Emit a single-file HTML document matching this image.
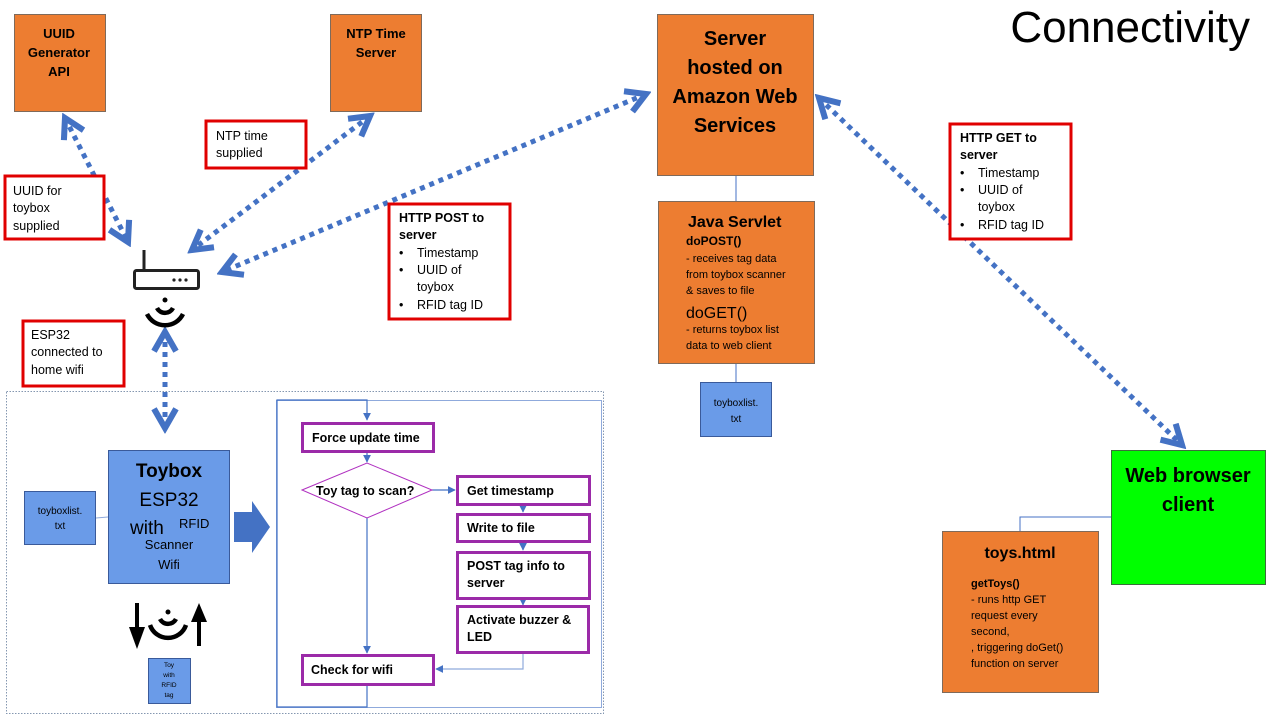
<!DOCTYPE html>
<html><head><meta charset="utf-8"><style>
html,body{margin:0;padding:0;background:#fff;}
svg{display:block;}
text{font-family:"Liberation Sans",sans-serif;}
</style></head><body>
<svg width="1280" height="720" viewBox="0 0 1280 720" xmlns="http://www.w3.org/2000/svg">
<defs>
<marker id="ch" viewBox="0 0 10 10" refX="8" refY="5" markerWidth="5.5" markerHeight="5.5" orient="auto-start-reverse" markerUnits="strokeWidth">
<polyline points="1,1 8,5 1,9" fill="none" stroke="#4472C4" stroke-width="2.2"/>
</marker>
<marker id="sa" viewBox="0 0 10 10" refX="9" refY="5" markerWidth="8" markerHeight="8" orient="auto" markerUnits="userSpaceOnUse">
<path d="M0,0 L10,5 L0,10 z" fill="#4472C4"/>
</marker>
</defs>
<text x="1250" y="42" font-size="44" text-anchor="end" fill="#000">Connectivity</text>

<rect x="6.5" y="391.5" width="597" height="322" fill="none" stroke="#8497b0" stroke-dasharray="1.5,1.5"/>
<rect x="276.5" y="400.5" width="325" height="307" fill="none" stroke="#8faadc" stroke-width="1"/>

<rect x="14.5" y="14.5" width="91" height="97" fill="#ED7D31" stroke="#7f6a5a"/>
<text font-size="13" font-weight="bold" text-anchor="middle"><tspan x="59" y="38">UUID</tspan><tspan x="59" y="57">Generator</tspan><tspan x="59" y="76">API</tspan></text>
<rect x="330.5" y="14.5" width="91" height="97" fill="#ED7D31" stroke="#7f6a5a"/>
<text font-size="13" font-weight="bold" text-anchor="middle"><tspan x="376" y="38">NTP Time</tspan><tspan x="376" y="57">Server</tspan></text>
<rect x="657.5" y="14.5" width="156" height="161" fill="#ED7D31" stroke="#7f6a5a"/>
<text font-size="20" font-weight="bold" text-anchor="middle"><tspan x="735" y="45">Server</tspan><tspan x="735" y="74">hosted on</tspan><tspan x="735" y="103">Amazon Web</tspan><tspan x="735" y="132">Services</tspan></text>

<line x1="736" y1="176" x2="736" y2="201" stroke="#4472C4"/>
<rect x="658.5" y="201.5" width="156" height="162" fill="#ED7D31" stroke="#7f6a5a"/>
<text font-size="16" font-weight="bold" x="688" y="227">Java Servlet</text>
<text font-size="12" font-weight="bold" x="686" y="245">doPOST()</text>
<text font-size="11"><tspan x="686" y="262">- receives tag data</tspan><tspan x="686" y="278">from toybox scanner</tspan><tspan x="686" y="294">&amp; saves to file</tspan></text>
<text font-size="16" x="686" y="318">doGET()</text>
<text font-size="11"><tspan x="686" y="333">- returns toybox list</tspan><tspan x="686" y="349">data to web client</tspan></text>
<line x1="736" y1="364" x2="736" y2="382" stroke="#4472C4"/>
<rect x="700.5" y="382.5" width="71" height="54" fill="#6A9BE8" stroke="#3a5a9a"/>
<text font-size="10" text-anchor="middle"><tspan x="736" y="406">toyboxlist.</tspan><tspan x="736" y="422">txt</tspan></text>

<polyline points="1111,517 1020,517 1020,531" fill="none" stroke="#4472C4"/>
<rect x="1111.5" y="450.5" width="154" height="134" fill="#00FF00" stroke="#3b6e3b"/>
<text font-size="20" font-weight="bold" text-anchor="middle"><tspan x="1188" y="482">Web browser</tspan><tspan x="1188" y="511">client</tspan></text>
<rect x="942.5" y="531.5" width="156" height="161" fill="#ED7D31" stroke="#7f6a5a"/>
<text font-size="16" font-weight="bold" x="1020" y="558" text-anchor="middle">toys.html</text>
<text font-size="11" font-weight="bold" x="971" y="587">getToys()</text>
<text font-size="11"><tspan x="971" y="603">- runs http  GET</tspan><tspan x="971" y="619">request every</tspan><tspan x="971" y="635">second,</tspan><tspan x="971" y="651">, triggering doGet()</tspan><tspan x="971" y="667">function on server</tspan></text>

<g stroke="#4472C4" stroke-width="5" stroke-dasharray="5,5" fill="none">
<line x1="65" y1="118" x2="128" y2="242" marker-start="url(#ch)" marker-end="url(#ch)"/>
<line x1="370" y1="116" x2="192" y2="250" marker-start="url(#ch)" marker-end="url(#ch)"/>
<line x1="646" y1="94" x2="222" y2="272" marker-start="url(#ch)" marker-end="url(#ch)"/>
<line x1="819" y1="98" x2="1182" y2="445" marker-start="url(#ch)" marker-end="url(#ch)"/>
<line x1="165" y1="332" x2="165" y2="428" marker-start="url(#ch)" marker-end="url(#ch)"/>
</g>

<g fill="#fff" stroke="#E00000" stroke-width="3">
<rect x="5" y="176" width="99" height="63"/>
<rect x="206" y="121" width="100" height="47"/>
<rect x="389" y="204" width="121" height="115"/>
<rect x="950" y="124" width="121" height="115"/>
<rect x="23" y="321" width="101" height="65"/>
</g>
<text font-size="12.5"><tspan x="13" y="195">UUID for</tspan><tspan x="13" y="212">toybox</tspan><tspan x="13" y="230">supplied</tspan></text>
<text font-size="12.5"><tspan x="216" y="140">NTP time</tspan><tspan x="216" y="157">supplied</tspan></text>
<text font-size="12.5"><tspan x="31" y="339">ESP32</tspan><tspan x="31" y="356">connected to</tspan><tspan x="31" y="374">home wifi</tspan></text>
<text font-size="12.5"><tspan x="399" y="222" font-weight="bold">HTTP POST to</tspan><tspan x="399" y="239" font-weight="bold">server</tspan><tspan x="399" y="257">•</tspan><tspan x="417" y="257">Timestamp</tspan><tspan x="399" y="274">•</tspan><tspan x="417" y="274">UUID of</tspan><tspan x="417" y="291">toybox</tspan><tspan x="399" y="309">•</tspan><tspan x="417" y="309">RFID tag ID</tspan></text>
<text font-size="12.5"><tspan x="960" y="142" font-weight="bold">HTTP GET to</tspan><tspan x="960" y="159" font-weight="bold">server</tspan><tspan x="960" y="177">•</tspan><tspan x="978" y="177">Timestamp</tspan><tspan x="960" y="194">•</tspan><tspan x="978" y="194">UUID of</tspan><tspan x="978" y="211">toybox</tspan><tspan x="960" y="229">•</tspan><tspan x="978" y="229">RFID tag ID</tspan></text>

<line x1="144" y1="250" x2="144" y2="270" stroke="#222" stroke-width="3"/>
<rect x="134.5" y="270.5" width="64" height="18" rx="2" fill="#fff" stroke="#222" stroke-width="3"/>
<circle cx="174" cy="280" r="1.6" fill="#222"/><circle cx="180" cy="280" r="1.6" fill="#222"/><circle cx="186" cy="280" r="1.6" fill="#222"/>
<g fill="none" stroke="#000" stroke-width="4.5">
<circle cx="165" cy="300" r="2.5" fill="#000" stroke="none"/>
<path d="M157,308 A9,9 0 0 0 173,308"/>
<path d="M147,314 A20,20 0 0 0 183,314"/>
</g>

<line x1="96" y1="518" x2="108" y2="517" stroke="#8faadc"/>
<rect x="24.5" y="491.5" width="71" height="53" fill="#6A9BE8" stroke="#3a5a9a"/>
<text font-size="10" text-anchor="middle"><tspan x="60" y="514">toyboxlist.</tspan><tspan x="60" y="529">txt</tspan></text>
<rect x="108.5" y="450.5" width="121" height="133" fill="#6A9BE8" stroke="#3a5a9a"/>
<text font-size="19" font-weight="bold" x="169" y="477" text-anchor="middle">Toybox</text>
<text font-size="19" x="169" y="506" text-anchor="middle">ESP32</text>
<text font-size="19" x="130" y="534">with</text>
<text font-size="13" x="179" y="528">RFID</text>
<text font-size="13" text-anchor="middle"><tspan x="169" y="549">Scanner</tspan><tspan x="169" y="569">Wifi</tspan></text>
<path d="M234,512 L252,512 L252,501 L270,527 L252,553 L252,542 L234,542 z" fill="#4472C4"/>

<line x1="137" y1="603" x2="137" y2="630" stroke="#000" stroke-width="4"/>
<path d="M129,627 L145,627 L137,649 z" fill="#000"/>
<line x1="199" y1="646" x2="199" y2="620" stroke="#000" stroke-width="4"/>
<path d="M191,622 L207,622 L199,603 z" fill="#000"/>
<g fill="none" stroke="#000" stroke-width="4.5">
<circle cx="168" cy="612" r="2.5" fill="#000" stroke="none"/>
<path d="M160,619 A9,9 0 0 0 176,619"/>
<path d="M150,625 A19,19 0 0 0 186,625"/>
</g>
<rect x="148.5" y="658.5" width="42" height="45" fill="#6A9BE8" stroke="#3a5a9a"/>
<text font-size="6.5" text-anchor="middle"><tspan x="169" y="667">Toy</tspan><tspan x="169" y="677">with</tspan><tspan x="169" y="687">RFID</tspan><tspan x="169" y="697">tag</tspan></text>

<g stroke="#4472C4" stroke-width="1.2" fill="none">
<polyline points="367,684 367,707 277,707 277,400 367,400 367,420" marker-end="url(#sa)"/>
<line x1="367" y1="452" x2="367" y2="462" marker-end="url(#sa)"/>
<line x1="432" y1="490" x2="455" y2="490" marker-end="url(#sa)"/>
<line x1="367" y1="518" x2="367" y2="653" marker-end="url(#sa)"/>
<line x1="523" y1="504" x2="523" y2="512" marker-end="url(#sa)"/>
<line x1="523" y1="541" x2="523" y2="550" marker-end="url(#sa)"/>
<line x1="523" y1="598" x2="523" y2="605" marker-end="url(#sa)"/>
<polyline points="523,652 523,669 436,669" stroke="#8faadc" marker-end="url(#sa)"/>
</g>
<g fill="#fff" stroke="#9B2AA8" stroke-width="3">
<rect x="302.5" y="423.5" width="131" height="28"/>
<rect x="457.5" y="476.5" width="132" height="28"/>
<rect x="457.5" y="514.5" width="132" height="27"/>
<rect x="457.5" y="552.5" width="132" height="46"/>
<rect x="457.5" y="606.5" width="131" height="46"/>
<rect x="302.5" y="655.5" width="131" height="29"/>
</g>
<polygon points="302,490 367,463 432,490 367,518" fill="#fff" stroke="#B030C0" stroke-width="1"/>
<g font-size="12.5" font-weight="bold">
<text x="312" y="442">Force update time</text>
<text x="316" y="495">Toy tag to scan?</text>
<text x="467" y="495">Get timestamp</text>
<text x="467" y="532">Write to file</text>
<text><tspan x="467" y="570">POST tag info to</tspan><tspan x="467" y="587">server</tspan></text>
<text><tspan x="467" y="624">Activate buzzer &amp;</tspan><tspan x="467" y="641">LED</tspan></text>
<text x="311" y="674">Check for wifi</text>
</g>
</svg>
</body></html>
